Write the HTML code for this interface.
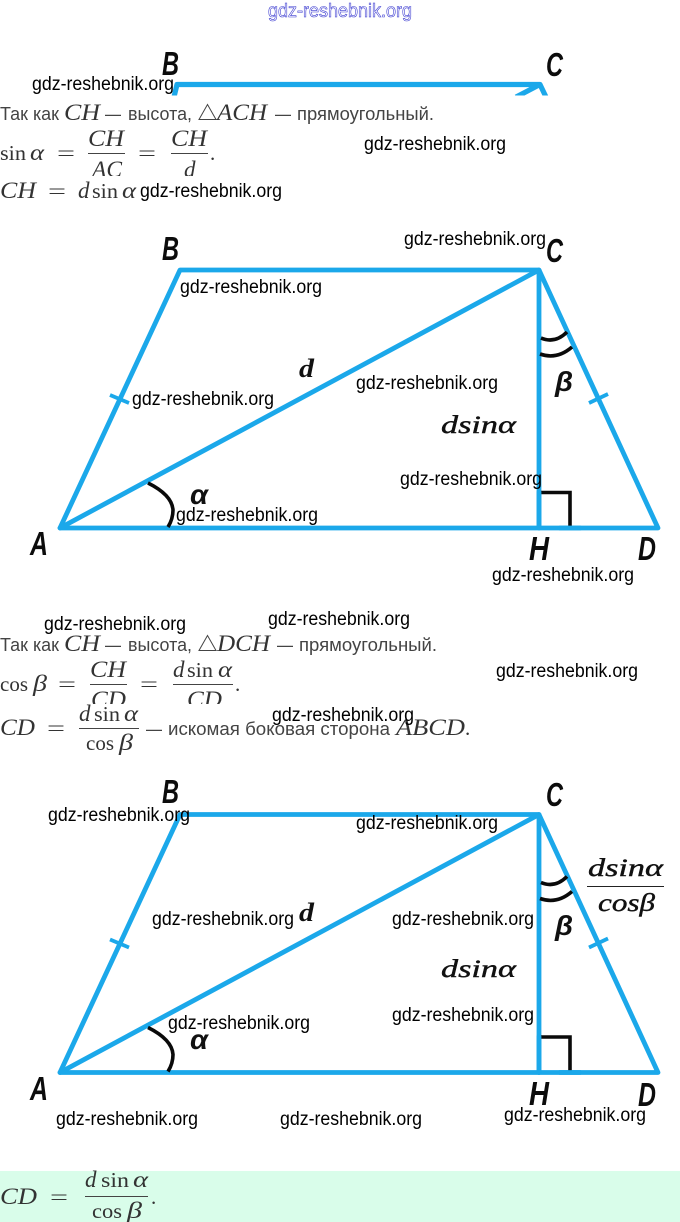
<!DOCTYPE html>
<html lang="ru">
<head>
<meta charset="utf-8">
<title>Трапеция ABCD</title>
<style>
html,body{margin:0;padding:0;background:#fff;width:680px;height:1222px;overflow:hidden}
svg{display:block}
.wm{font:19px "Liberation Sans",sans-serif;fill:#000}
.t{font:18px "Liberation Sans",sans-serif;fill:#444}
.m{font:italic 23px "Liberation Serif",serif;fill:#333}
.r{font:21px "Liberation Serif",serif;fill:#333}
.l{font:italic bold 33px "Liberation Sans",sans-serif;fill:#0c0c0c}
.f{font:italic 25px "Liberation Serif",serif;fill:#111;stroke:#111;stroke-width:.4}
.d{font:italic bold 26px "Liberation Serif",serif;fill:#111}
.g{font:italic bold 28px "Liberation Sans",sans-serif;fill:#111}
.blue{fill:none;stroke:#1ba8ea;stroke-width:4.800;stroke-linejoin:round;stroke-linecap:round}
.blk{fill:none;stroke:#0a0a0a;stroke-width:3.600}
.rule{stroke:#444;stroke-width:1}
</style>
</head>
<body>
<svg width="680" height="1222" viewBox="0 0 680 1222" xmlns="http://www.w3.org/2000/svg">
<defs>
<clipPath id="topclip"><rect x="0" y="60" width="680" height="35.5"/></clipPath>
<g id="fig">
  <path class="blue" d="M60 528 L180 270 L539 270 L658 528 Z"/>
  <path class="blue" d="M60 528 L539 270 L539 528"/>
  <path d="M110 395 L129 403 M589 403 L608 394" fill="none" stroke="#1ba8ea" stroke-width="3.800"/>
  <path class="blk" d="M148 483 Q172 495 173 510 Q173 519 168 527"/>
  <path class="blk" d="M541 338 Q555 344 567 332"/>
  <path class="blk" d="M540 354 Q557 360 572 347"/>
  <path class="blk" d="M537 492.500 L570 492.500 L570 528" stroke-width="4"/>
  <path class="blue" d="M539 492 L539 528 M560 528 L580 528"/>
</g>
</defs>

<!-- top fragment -->
<text x="268" y="17" font-family="Liberation Sans,sans-serif" font-size="19" fill="#fff" stroke="#3a3ad0" stroke-width=".6" textLength="144" lengthAdjust="spacingAndGlyphs">gdz-reshebnik.org</text>
<g clip-path="url(#topclip)">
  <path d="M174 97 L177 84.500 L540 84.500 L546 97 M540 84.500 L516 97" fill="none" stroke="#1ba8ea" stroke-width="5.200" stroke-linejoin="round"/>
</g>
<text class="l" x="162" y="75" textLength="17" lengthAdjust="spacingAndGlyphs">B</text>
<text class="l" x="546" y="76" textLength="17" lengthAdjust="spacingAndGlyphs">C</text>

<!-- text block 1 -->
<text class="t" x="0" y="120" textLength="59" lengthAdjust="spacingAndGlyphs">Так как</text>
<text class="m" x="64" y="120" textLength="36" lengthAdjust="spacingAndGlyphs">CH</text>
<text class="t" x="105" y="120" textLength="16" lengthAdjust="spacingAndGlyphs">—</text>
<text class="t" x="128" y="120" textLength="64" lengthAdjust="spacingAndGlyphs">высота,</text>
<path d="M199 119.500 L207.500 104.500 L216 119.500 Z" fill="none" stroke="#444" stroke-width="1"/>
<text class="m" x="217" y="120" textLength="50" lengthAdjust="spacingAndGlyphs">ACH</text>
<text class="t" x="275" y="120" textLength="16" lengthAdjust="spacingAndGlyphs">—</text>
<text class="t" x="297" y="120" textLength="137" lengthAdjust="spacingAndGlyphs">прямоугольный.</text>

<text class="r" x="0" y="160" textLength="26" lengthAdjust="spacingAndGlyphs">sin</text>
<text class="m" x="30" y="160" textLength="14" lengthAdjust="spacingAndGlyphs">α</text>
<text class="r" x="57" y="160" textLength="18" lengthAdjust="spacingAndGlyphs">=</text>
<text class="m" x="88" y="146" textLength="36" lengthAdjust="spacingAndGlyphs">CH</text>
<line class="rule" x1="88" y1="153.500" x2="125" y2="153.500"/>
<text class="m" x="92" y="177" textLength="30" lengthAdjust="spacingAndGlyphs">AC</text>
<text class="r" x="138" y="160" textLength="18" lengthAdjust="spacingAndGlyphs">=</text>
<text class="m" x="171" y="146" textLength="36" lengthAdjust="spacingAndGlyphs">CH</text>
<line class="rule" x1="171" y1="153.500" x2="208" y2="153.500"/>
<text class="m" x="184" y="177">d</text>
<text class="r" x="210" y="160">.</text>
<rect x="0" y="176" width="300" height="6" fill="#fff"/>

<text class="m" x="0" y="198" textLength="36" lengthAdjust="spacingAndGlyphs">CH</text>
<text class="r" x="48" y="198" textLength="18" lengthAdjust="spacingAndGlyphs">=</text>
<text class="m" x="78" y="198">d</text>
<text class="r" x="92" y="198" textLength="26" lengthAdjust="spacingAndGlyphs">sin</text>
<text class="m" x="122" y="198" textLength="14" lengthAdjust="spacingAndGlyphs">α</text>

<!-- figure 1 -->
<use href="#fig"/>
<text class="l" x="162" y="260" textLength="17" lengthAdjust="spacingAndGlyphs">B</text>
<text class="l" x="546" y="262" textLength="17" lengthAdjust="spacingAndGlyphs">C</text>
<text class="l" x="30" y="555" textLength="18" lengthAdjust="spacingAndGlyphs">A</text>
<text class="l" x="529" y="560" textLength="20" lengthAdjust="spacingAndGlyphs">H</text>
<text class="l" x="638" y="560" textLength="18" lengthAdjust="spacingAndGlyphs">D</text>
<text class="d" x="299" y="377" textLength="15" lengthAdjust="spacingAndGlyphs">d</text>
<text class="g" x="190" y="504" textLength="18" lengthAdjust="spacingAndGlyphs">α</text>
<text class="g" x="555" y="391" textLength="18" lengthAdjust="spacingAndGlyphs">β</text>
<text class="f" x="441" y="433" textLength="75" lengthAdjust="spacingAndGlyphs">dsinα</text>

<!-- text block 2 -->
<text class="t" x="0" y="651" textLength="59" lengthAdjust="spacingAndGlyphs">Так как</text>
<text class="m" x="64" y="651" textLength="36" lengthAdjust="spacingAndGlyphs">CH</text>
<text class="t" x="105" y="651" textLength="16" lengthAdjust="spacingAndGlyphs">—</text>
<text class="t" x="128" y="651" textLength="64" lengthAdjust="spacingAndGlyphs">высота,</text>
<path d="M199 650.500 L207.500 635.500 L216 650.500 Z" fill="none" stroke="#444" stroke-width="1"/>
<text class="m" x="217" y="651" textLength="53" lengthAdjust="spacingAndGlyphs">DCH</text>
<text class="t" x="277" y="651" textLength="16" lengthAdjust="spacingAndGlyphs">—</text>
<text class="t" x="299" y="651" textLength="138" lengthAdjust="spacingAndGlyphs">прямоугольный.</text>

<text class="r" x="0" y="691" textLength="28" lengthAdjust="spacingAndGlyphs">cos</text>
<text class="m" x="33" y="691" textLength="14" lengthAdjust="spacingAndGlyphs">β</text>
<text class="r" x="58" y="691" textLength="18" lengthAdjust="spacingAndGlyphs">=</text>
<text class="m" x="90" y="677" textLength="36" lengthAdjust="spacingAndGlyphs">CH</text>
<line class="rule" x1="90" y1="684.500" x2="127" y2="684.500"/>
<text class="m" x="91" y="707" textLength="35" lengthAdjust="spacingAndGlyphs">CD</text>
<text class="r" x="140" y="691" textLength="18" lengthAdjust="spacingAndGlyphs">=</text>
<text class="m" x="173" y="677">d</text>
<text class="r" x="187" y="677" textLength="26" lengthAdjust="spacingAndGlyphs">sin</text>
<text class="m" x="218" y="677" textLength="14" lengthAdjust="spacingAndGlyphs">α</text>
<line class="rule" x1="173" y1="684.500" x2="233" y2="684.500"/>
<text class="m" x="187" y="707" textLength="35" lengthAdjust="spacingAndGlyphs">CD</text>
<text class="r" x="235" y="691">.</text>
<rect x="0" y="704" width="300" height="8" fill="#fff"/>

<text class="m" x="0" y="735" textLength="35" lengthAdjust="spacingAndGlyphs">CD</text>
<text class="r" x="47" y="735" textLength="18" lengthAdjust="spacingAndGlyphs">=</text>
<text class="m" x="79" y="721">d</text>
<text class="r" x="94" y="721" textLength="26" lengthAdjust="spacingAndGlyphs">sin</text>
<text class="m" x="124" y="721" textLength="14" lengthAdjust="spacingAndGlyphs">α</text>
<line class="rule" x1="79" y1="728.500" x2="139" y2="728.500"/>
<text class="r" x="86" y="750" textLength="28" lengthAdjust="spacingAndGlyphs">cos</text>
<text class="m" x="119" y="750" textLength="14" lengthAdjust="spacingAndGlyphs">β</text>
<text class="t" x="146" y="735" textLength="16" lengthAdjust="spacingAndGlyphs">—</text>
<text class="t" x="168" y="735" textLength="222" lengthAdjust="spacingAndGlyphs">искомая боковая сторона</text>
<text class="m" x="396" y="735" textLength="69" lengthAdjust="spacingAndGlyphs">ABCD</text>
<text class="r" x="465" y="735">.</text>

<!-- figure 2 -->
<use href="#fig" transform="translate(0 544.500)"/>
<text class="l" x="162" y="803" textLength="17" lengthAdjust="spacingAndGlyphs">B</text>
<text class="l" x="546" y="806" textLength="17" lengthAdjust="spacingAndGlyphs">C</text>
<text class="l" x="30" y="1100" textLength="18" lengthAdjust="spacingAndGlyphs">A</text>
<text class="l" x="529" y="1105" textLength="20" lengthAdjust="spacingAndGlyphs">H</text>
<text class="l" x="638" y="1106" textLength="18" lengthAdjust="spacingAndGlyphs">D</text>
<text class="d" x="299" y="921" textLength="15" lengthAdjust="spacingAndGlyphs">d</text>
<text class="g" x="190" y="1049" textLength="18" lengthAdjust="spacingAndGlyphs">α</text>
<text class="g" x="555" y="935" textLength="18" lengthAdjust="spacingAndGlyphs">β</text>
<text class="f" x="441" y="977" textLength="75" lengthAdjust="spacingAndGlyphs">dsinα</text>
<text class="f" x="588" y="876" textLength="75" lengthAdjust="spacingAndGlyphs">dsinα</text>
<line x1="587" y1="886.500" x2="664" y2="886.500" stroke="#222" stroke-width="1"/>
<text class="f" x="598" y="911" textLength="57" lengthAdjust="spacingAndGlyphs">cosβ</text>

<!-- answer band -->
<rect x="0" y="1171" width="680" height="51" fill="#d9fdea"/>
<text class="m" x="0" y="1204" textLength="37" lengthAdjust="spacingAndGlyphs">CD</text>
<text class="r" x="50" y="1204" textLength="18" lengthAdjust="spacingAndGlyphs">=</text>
<text class="m" x="85" y="1187">d</text>
<text class="r" x="101" y="1187" textLength="28" lengthAdjust="spacingAndGlyphs">sin</text>
<text class="m" x="133" y="1187" textLength="15" lengthAdjust="spacingAndGlyphs">α</text>
<line class="rule" x1="85" y1="1196.500" x2="148" y2="1196.500"/>
<text class="r" x="92" y="1218" textLength="30" lengthAdjust="spacingAndGlyphs">cos</text>
<text class="m" x="127" y="1218" textLength="15" lengthAdjust="spacingAndGlyphs">β</text>
<text class="r" x="151" y="1204">.</text>

<!-- watermarks -->
<g class="wm">
<text x="32" y="90" textLength="142" lengthAdjust="spacingAndGlyphs">gdz-reshebnik.org</text>
<text x="364" y="150" textLength="142" lengthAdjust="spacingAndGlyphs">gdz-reshebnik.org</text>
<text x="140" y="197" textLength="142" lengthAdjust="spacingAndGlyphs">gdz-reshebnik.org</text>
<text x="404" y="245" textLength="142" lengthAdjust="spacingAndGlyphs">gdz-reshebnik.org</text>
<text x="180" y="293" textLength="142" lengthAdjust="spacingAndGlyphs">gdz-reshebnik.org</text>
<text x="132" y="405" textLength="142" lengthAdjust="spacingAndGlyphs">gdz-reshebnik.org</text>
<text x="356" y="389" textLength="142" lengthAdjust="spacingAndGlyphs">gdz-reshebnik.org</text>
<text x="400" y="485" textLength="142" lengthAdjust="spacingAndGlyphs">gdz-reshebnik.org</text>
<text x="176" y="521" textLength="142" lengthAdjust="spacingAndGlyphs">gdz-reshebnik.org</text>
<text x="492" y="581" textLength="142" lengthAdjust="spacingAndGlyphs">gdz-reshebnik.org</text>
<text x="44" y="630" textLength="142" lengthAdjust="spacingAndGlyphs">gdz-reshebnik.org</text>
<text x="268" y="625" textLength="142" lengthAdjust="spacingAndGlyphs">gdz-reshebnik.org</text>
<text x="496" y="677" textLength="142" lengthAdjust="spacingAndGlyphs">gdz-reshebnik.org</text>
<text x="272" y="721" textLength="142" lengthAdjust="spacingAndGlyphs">gdz-reshebnik.org</text>
<text x="48" y="821" textLength="142" lengthAdjust="spacingAndGlyphs">gdz-reshebnik.org</text>
<text x="356" y="829" textLength="142" lengthAdjust="spacingAndGlyphs">gdz-reshebnik.org</text>
<text x="152" y="925" textLength="142" lengthAdjust="spacingAndGlyphs">gdz-reshebnik.org</text>
<text x="392" y="925" textLength="142" lengthAdjust="spacingAndGlyphs">gdz-reshebnik.org</text>
<text x="168" y="1029" textLength="142" lengthAdjust="spacingAndGlyphs">gdz-reshebnik.org</text>
<text x="392" y="1021" textLength="142" lengthAdjust="spacingAndGlyphs">gdz-reshebnik.org</text>
<text x="56" y="1125" textLength="142" lengthAdjust="spacingAndGlyphs">gdz-reshebnik.org</text>
<text x="280" y="1125" textLength="142" lengthAdjust="spacingAndGlyphs">gdz-reshebnik.org</text>
<text x="504" y="1121" textLength="142" lengthAdjust="spacingAndGlyphs">gdz-reshebnik.org</text>
</g>
</svg>
</body>
</html>
